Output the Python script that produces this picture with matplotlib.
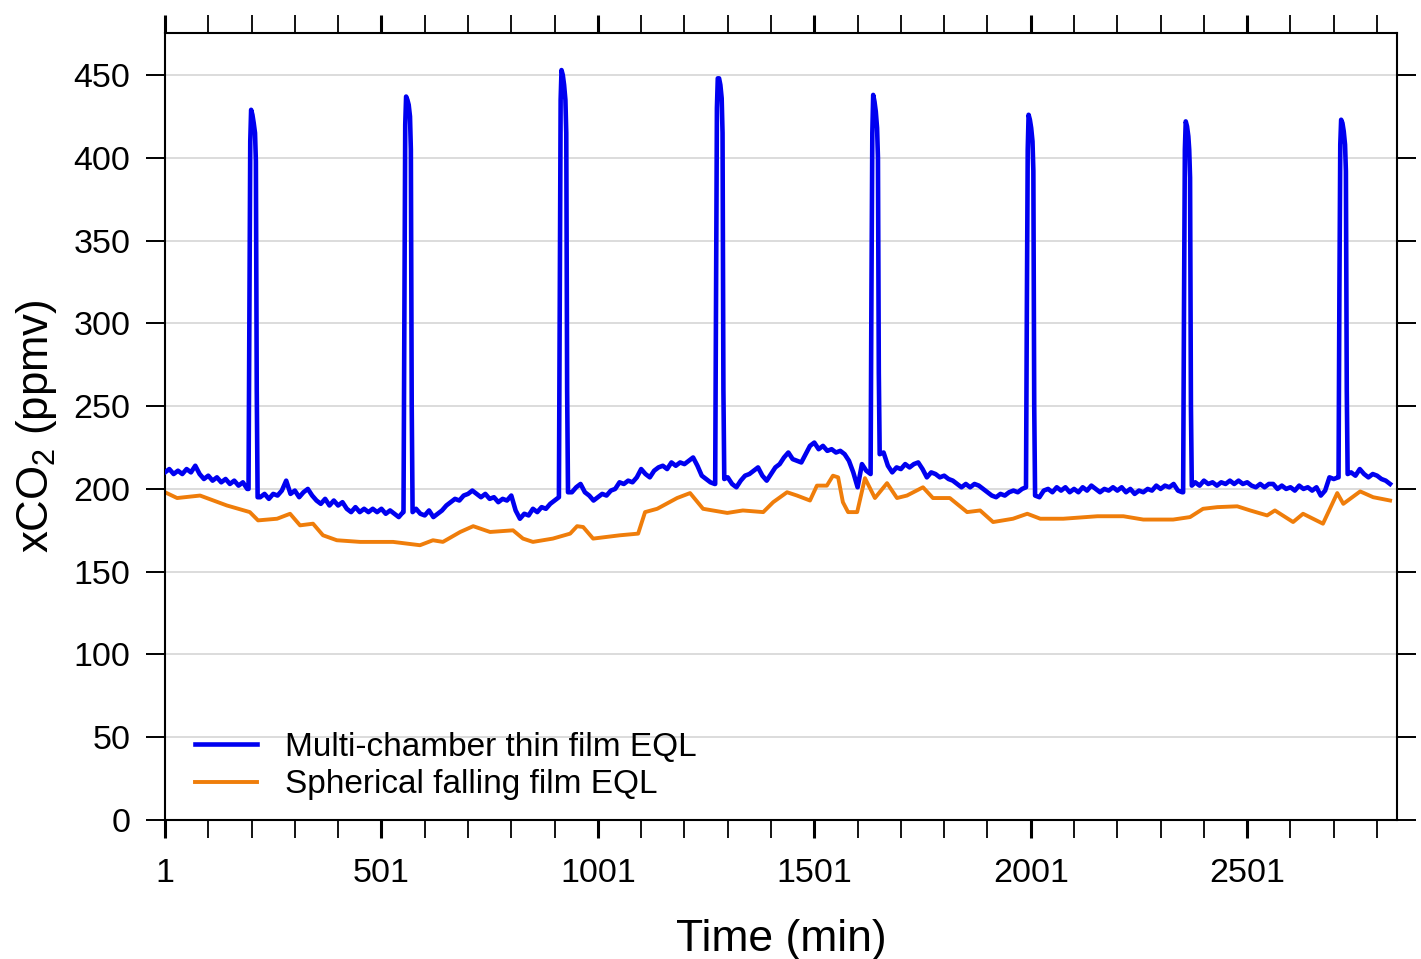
import numpy as np
import matplotlib
matplotlib.use('Agg')
import matplotlib.pyplot as plt
from matplotlib.ticker import MultipleLocator, FixedLocator

plt.rcParams['font.family'] = ['Liberation Sans', 'DejaVu Sans']
plt.rcParams['mathtext.fontset'] = 'custom'
plt.rcParams['mathtext.rm'] = 'Liberation Sans'

# Multi-chamber thin film EQL, baseline every 10 min (ppmv)
blue_base_t = np.arange(1, 2832, 10)
blue_base_v = [
    210, 212, 209, 211, 209, 212, 210, 214, 209, 206,   # 1
    208, 205, 207, 204, 206, 203, 205, 202, 204, 200,   # 101
    200, 195, 195, 197, 194, 197, 196, 199, 205, 197,   # 201
    199, 195, 198, 200, 196, 193, 191, 194, 190, 193,   # 301
    190, 192, 188, 186, 189, 186, 188, 186, 188, 186,   # 401
    188, 185, 187, 185, 183, 186, 187, 186, 188, 185,   # 501
    184, 187, 183, 185, 187, 190, 192, 194, 193, 196,   # 601
    197, 199, 197, 195, 197, 194, 195, 192, 194, 193,   # 701
    196, 187, 182, 185, 184, 188, 186, 189, 188, 191,   # 801
    193, 195, 196, 200, 198, 201, 203, 198, 196, 193,   # 901
    195, 197, 196, 199, 200, 204, 203, 205, 204, 207,   # 1001
    212, 209, 207, 211, 213, 214, 212, 216, 214, 216,   # 1101
    215, 217, 219, 214, 208, 206, 204, 203, 205, 206,   # 1201
    207, 203, 201, 205, 208, 209, 211, 213, 208, 205,   # 1301
    209, 213, 215, 219, 222, 218, 217, 216, 221, 226,   # 1401
    228, 224, 226, 223, 224, 222, 223, 221, 217, 210,   # 1501
    201, 215, 211, 209, 215, 221, 222, 214, 210, 213,   # 1601
    212, 215, 213, 215, 216, 212, 207, 210, 209, 207,   # 1701
    208, 206, 205, 203, 201, 203, 201, 203, 202, 200,   # 1801
    198, 196, 195, 197, 196, 198, 199, 198, 200, 201,   # 1901
    200, 196, 195, 199, 200, 198, 201, 199, 201, 198,   # 2001
    200, 198, 201, 199, 202, 200, 198, 200, 199, 201,   # 2101
    199, 201, 198, 200, 197, 199, 198, 200, 199, 202,   # 2201
    200, 202, 201, 203, 199, 198, 200, 202, 204, 202,   # 2301
    205, 203, 204, 202, 204, 203, 205, 203, 205, 203,   # 2401
    204, 202, 201, 203, 201, 203, 203, 200, 202, 200,   # 2501
    201, 199, 202, 200, 201, 199, 201, 196, 199, 207,   # 2601
    206, 207, 208, 209, 210, 208, 212, 209, 207, 209,   # 2701
    208, 206, 205, 203,                                 # 2801
]

# Calibration spikes on the thin film EQL
spike_t = [
    [194, 196, 198, 200, 203, 206, 209, 211, 213, 215],
    [552, 554, 556, 558, 561, 564, 567, 569, 571, 573],
    [911, 913, 915, 917, 920, 923, 926, 928, 930, 932],
    [1272, 1274, 1276, 1278, 1281, 1284, 1287, 1289, 1291, 1293],
    [1631, 1633, 1635, 1637, 1640, 1643, 1646, 1648, 1650, 1652],
    [1990, 1992, 1994, 1996, 1999, 2002, 2005, 2007, 2009, 2011],
    [2353, 2355, 2357, 2359, 2362, 2365, 2367, 2369, 2371, 2373],
    [2712, 2714, 2716, 2718, 2721, 2724, 2727, 2729, 2731, 2733],
]
spike_v = [
    [200, 310, 410, 429, 426, 421, 415, 398, 260, 195],
    [186, 300, 420, 437, 435, 432, 425, 405, 250, 186],
    [195, 320, 435, 453, 450, 444, 435, 415, 260, 198],
    [203, 320, 430, 448, 448, 444, 436, 415, 260, 206],
    [209, 320, 415, 438, 434, 428, 418, 400, 270, 221],
    [201, 310, 405, 426, 423, 418, 410, 392, 250, 196],
    [198, 310, 405, 422, 419, 413, 405, 388, 250, 202],
    [207, 320, 408, 423, 421, 416, 408, 392, 260, 209],
]

# Spherical falling film EQL (ppmv)
orange_t = [1, 29, 82, 144, 197, 216, 260, 290, 313, 343, 366, 398, 452, 528,
            590, 620, 643, 683, 713, 752, 805, 828, 851, 897, 937, 953, 967,
            990, 1052, 1094, 1110, 1138, 1184, 1214, 1244, 1300, 1336, 1383,
            1406, 1438, 1461, 1491, 1507, 1530, 1544, 1556, 1567, 1579, 1600,
            1618, 1641, 1669, 1692, 1715, 1752, 1775, 1814, 1854, 1884, 1914,
            1960, 1993, 2023, 2076, 2155, 2215, 2261, 2330, 2369, 2399, 2432,
            2478, 2508, 2547, 2565, 2607, 2630, 2676, 2709, 2723, 2762, 2792,
            2831]
orange_v = [198, 194.5, 196, 190, 186, 181, 182, 185, 178, 179, 172, 169, 168,
            168, 166, 169, 168, 174, 177.5, 174, 175, 170, 168, 170, 173, 177.5,
            177, 170, 172, 173, 186, 188, 194.5, 197.5, 188, 185.5, 187, 186,
            192, 198, 196, 193, 202, 202, 208, 207, 192, 186, 186, 206.5, 194.5,
            203.5, 194.5, 196, 201, 194.5, 194.5, 186, 187, 180, 182, 185, 182,
            182, 183.5, 183.5, 181.5, 181.5, 183, 188, 189, 189.5, 187, 184,
            187, 180, 185, 179, 197.5, 191, 198.5, 195, 193]

# merge baseline and spikes into one series
bt = list(blue_base_t)
bv = list(blue_base_v)
for st, sv in zip(spike_t, spike_v):
    keep = [(t, v) for t, v in zip(bt, bv) if t < st[0] or t > st[-1]]
    bt = [k[0] for k in keep] + st
    bv = [k[1] for k in keep] + sv
order = np.argsort(bt)
blue_t = np.array(bt)[order]
blue_v = np.array(bv)[order]

fig = plt.figure(figsize=(14.21, 9.59), dpi=100)
ax = fig.add_axes([0.1161, 0.1449, 0.867, 0.8207])

ax.plot(blue_t, blue_v, color='#0000f0', lw=3.3, label='Multi-chamber thin film EQL', zorder=3)
ax.plot(orange_t, orange_v, color='#ef7d0a', lw=2.8, label='Spherical falling film EQL', zorder=2)

ax.set_xlim(1, 2847)
ax.set_ylim(0, 475.4)

ax.yaxis.set_major_locator(MultipleLocator(50))
ax.xaxis.set_major_locator(FixedLocator([1, 501, 1001, 1501, 2001, 2501]))
ax.xaxis.set_minor_locator(FixedLocator([t for t in range(101, 2847, 100) if (t - 1) % 500]))
ax.grid(axis='y', color='#d9d9d9', lw=1.3, zorder=0)
ax.set_axisbelow(True)

ax.tick_params(axis='both', which='both', direction='out', top=True, right=True,
               labeltop=False, labelright=False, color='black')
ax.tick_params(axis='x', which='major', length=13, width=2.2, labelsize=24.5, pad=14)
ax.tick_params(axis='x', which='minor', length=13, width=1.3)
ax.tick_params(axis='y', which='major', length=14, width=1.4, labelsize=24.5, pad=11)
for sp in ax.spines.values():
    sp.set_linewidth(1.5)

ax.set_xlabel('Time (min)', fontsize=32, labelpad=22)
ax.set_ylabel(r'xCO$_\mathregular{2}$ (ppmv)', fontsize=31.5, labelpad=10)

ax.legend(loc='lower left', bbox_to_anchor=(0.024, 0.025), frameon=False, fontsize=24,
          handlelength=1.86, handletextpad=0.85, labelspacing=0.2, borderpad=0,
          borderaxespad=0)

fig.savefig('out.png', dpi=100)
